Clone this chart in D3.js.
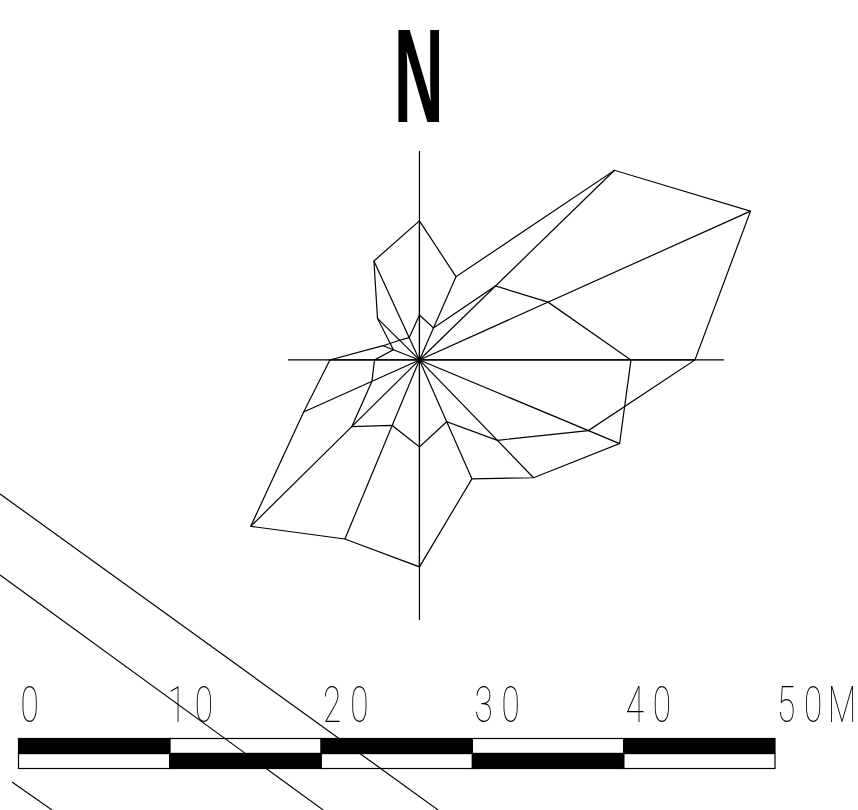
<!DOCTYPE html>
<html>
<head>
<meta charset="utf-8">
<style>
html, body { margin: 0; padding: 0; background: #fff; overflow: hidden; }
</style>
<script src="https://cdn.jsdelivr.net/npm/d3@7"></script>
</head>
<body>
<div id="chart"></div>
<script>
// everything in metres, same ratio as the scale bar
var directions = ["N", "NNE", "NE", "ENE", "E", "ESE", "SE", "SSE", "S", "SSW", "SW", "WSW", "W", "WNW", "NW", "NNW"];
// the spokes are not quite evenly spaced in the drawing
var bearings = [0, 23.7, 45.8, 65.8, 90, 112.7, 135.9, 156.2, 180, 202.6, 225.4, 245.8, 270, 291.4, 314.7, 335.3];
var rose_a = [9.19, 6.01, 17.98, 23.99, 18.21, 12.10, 7.40, 4.46, 5.75, 4.69, 6.28, 3.44, 2.97, 1.85, 3.90, 7.20];
var rose_b = [2.97, 2.31, 7.01, 9.32, 13.98, 14.34, 10.84, 8.59, 13.68, 12.82, 15.66, 8.39, 5.92, 2.58, 1.85, 1.62];
var axis_reach = [13.81, 20.13, 17.18, 8.69]; // N E S W
var rose_center = [26.5, 25.02];

var bar_ticks = [0, 10, 20, 30, 40, 50];
var bar_labels = ["0", "10", "20", "30", "40", "50M"];

// the three parallel lines running off the bottom left [x1, y1, x2, y2]
var road_lines = [
	[-1.22, 16.16, 27.73, -4.72],
	[-1.22, 10.81, 20.13, -4.72],
	[-0.43, -2.88, 2.21, -4.72]
];

var width = 858, height = 810;

var svg = d3.select("#chart").append("svg")
	.attr("width", width)
	.attr("height", height)
	.style("display", "block");

var x = d3.scaleLinear().domain([0, 50]).range([18.5, 775]);
var y = d3.scaleLinear().domain([0, 50]).range([738.5, 738.5 - 756.5]);
var r = d3.scaleLinear().domain([0, 50]).range([0, 756.5]);

function toRad(deg){ return deg * Math.PI / 180; }

// roads
svg.selectAll(".road")
	.data(road_lines)
	.enter().append("line")
		.attr("class", "road")
		.attr("x1", function(d){ return x(d[0]); })
		.attr("y1", function(d){ return y(d[1]); })
		.attr("x2", function(d){ return x(d[2]); })
		.attr("y2", function(d){ return y(d[3]); })
		.style("stroke", "#000")
		.style("stroke-width", 1.2);

// north mark
svg.append("text")
	.attr("transform", "translate(418.7, 122.3) scale(0.52, 1)")
	.attr("text-anchor", "middle")
	.style("font-family", "'Liberation Sans'")
	.style("font-weight", "bold")
	.style("font-size", "133px")
	.style("filter", "grayscale(1)")
	.text("N");

// wind rose
var rose = svg.append("g")
	.attr("transform", "translate(" + x(rose_center[0]) + ", " + y(rose_center[1]) + ")");

var radial = d3.lineRadial()
	.angle(function(d, i){ return toRad(bearings[i]); })
	.radius(function(d){ return r(d); })
	.curve(d3.curveLinearClosed);

var spokes = directions.map(function(d, i){
	return {angle: toRad(bearings[i]), value: Math.max(rose_a[i], rose_b[i])};
});

rose.selectAll(".spoke")
	.data(spokes)
	.enter().append("line")
		.attr("class", "spoke")
		.attr("x2", function(d){ return r(d.value) * Math.sin(d.angle); })
		.attr("y2", function(d){ return -r(d.value) * Math.cos(d.angle); })
		.style("stroke", "#000")
		.style("stroke-width", 1.2);

rose.selectAll(".outline")
	.data([rose_a, rose_b])
	.enter().append("path")
		.attr("class", "outline")
		.attr("d", radial)
		.style("fill", "none")
		.style("stroke", "#000")
		.style("stroke-width", 1.2);

rose.selectAll(".cross")
	.data(axis_reach)
	.enter().append("line")
		.attr("class", "cross")
		.attr("x2", function(d, i){ return r(d) * Math.sin(i * Math.PI / 2); })
		.attr("y2", function(d, i){ return -r(d) * Math.cos(i * Math.PI / 2); })
		.style("stroke", "#000")
		.style("stroke-width", 1.2);

// scale bar, two rows with alternating black cells
var bar_h = 15;
var cells = d3.range(bar_ticks.length - 1);

[0, 1].forEach(function(row){
	svg.selectAll(".cell-" + row)
		.data(cells)
		.enter().append("rect")
			.attr("class", "cell-" + row)
			.attr("x", function(d){ return x(bar_ticks[d]); })
			.attr("y", y(0) + row * bar_h)
			.attr("width", function(d){ return x(bar_ticks[d + 1]) - x(bar_ticks[d]); })
			.attr("height", bar_h)
			.style("fill", function(d){ return d % 2 == row ? "#000" : "none"; })
			.style("stroke", "#000")
			.style("stroke-width", 1.2);
});

var labels = svg.selectAll(".bar-label")
	.data(bar_labels)
	.enter().append("text")
		.attr("class", "bar-label")
		// the 1 has a wide left bearing in this font
		.attr("transform", function(d, i){
			var nudge = d.charAt(0) == "1" ? -4 : 0;
			return "translate(" + (x(bar_ticks[i]) + 2 + nudge) + ", 722) scale(0.68, 1)";
		})
		.style("font-family", "Roboto")
		.style("font-weight", 100)
		.style("font-size", "49px")
		.style("filter", "grayscale(1)");

// spacing goes on all but the last character so nothing hangs off the right edge,
// and the gap before the M is tighter so it stays inside the page
labels.selectAll("tspan")
	.data(function(d){ return d.split(""); })
	.enter().append("tspan")
		.style("letter-spacing", function(d, i, nodes){
			if (i == nodes.length - 1) return "0px";
			return nodes[i + 1].__data__ == "M" ? "8px" : "13px";
		})
		.text(function(d){ return d; });
</script>
</body>
</html>
